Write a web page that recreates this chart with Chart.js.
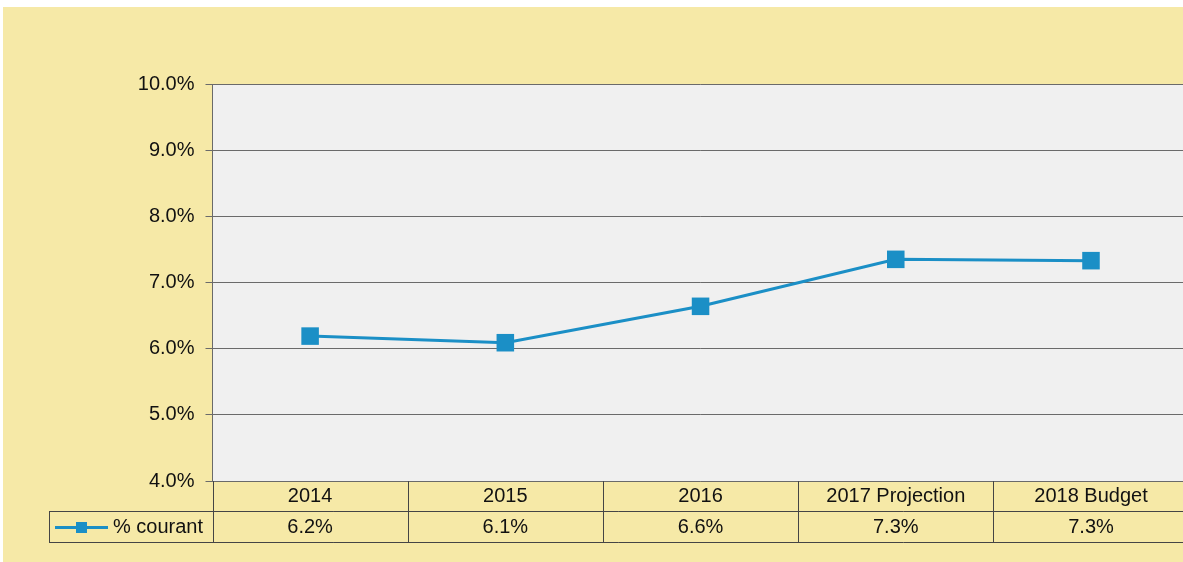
<!DOCTYPE html>
<html>
<head>
<meta charset="utf-8">
<script src="https://cdn.jsdelivr.net/npm/chart.js@4"></script>
<style>
  body { margin: 0; background: #ffffff; overflow: hidden; }
  #wrap { position: absolute; left: 0; top: 0; }
</style>
</head>
<body>
<div id="wrap"><canvas id="myChart" width="1201" height="562"></canvas></div>
<script>
const years = ['2014', '2015', '2016', '2017 Projection', '2018 Budget'];
const courant = [6.19, 6.09, 6.64, 7.35, 7.33];
const serieLabel = '% courant';
const yMin = 4, yMax = 10, yStep = 1;

const lineColor = '#1b8fc6';
const yellow = '#f6e9a7';
const font = "'Liberation Sans', Arial, sans-serif";

const fond = {
  id: 'fond',
  beforeDraw(chart) {
    const c = chart.ctx, a = chart.chartArea;
    c.save();
    c.fillStyle = yellow;
    c.fillRect(3, 7, chart.width, chart.height);
    c.fillStyle = '#f0f0f0';
    c.fillRect(a.left, a.top, a.right - a.left, a.bottom - a.top);
    c.restore();
  }
};

// tableau de données sous le graphique
const tableau = {
  id: 'tableau',
  afterDraw(chart) {
    const c = chart.ctx, a = chart.chartArea, x = chart.scales.x;
    const half = (x.getPixelForValue(1) - x.getPixelForValue(0)) / 2;
    const r1 = a.bottom, r2 = a.bottom + 30, r3 = a.bottom + 61;
    const legL = 49;
    const right = x.getPixelForValue(years.length - 1) + half;
    c.save();
    c.strokeStyle = '#454545';
    c.lineWidth = 1;
    c.beginPath();
    c.moveTo(legL, r2 + 0.5); c.lineTo(right, r2 + 0.5);
    c.moveTo(legL, r3 + 0.5); c.lineTo(right, r3 + 0.5);
    c.moveTo(legL + 0.5, r2); c.lineTo(legL + 0.5, r3);
    for (let i = 0; i <= years.length; i++) {
      const px = Math.round(x.getPixelForValue(i) - half) + 0.5;
      c.moveTo(px, r1); c.lineTo(px, r3);
    }
    c.stroke();

    c.fillStyle = '#111111';
    c.font = '20px ' + font;
    c.textAlign = 'center';
    c.textBaseline = 'middle';
    for (let i = 0; i < years.length; i++) {
      const px = x.getPixelForValue(i);
      c.fillText(years[i], px, (r1 + r2) / 2);
      c.fillText(courant[i].toFixed(1) + '%', px, (r2 + r3) / 2 + 1);
    }

    // légende
    const ly = (r2 + r3) / 2 + 1;
    c.strokeStyle = lineColor;
    c.lineWidth = 3;
    c.beginPath();
    c.moveTo(55, ly); c.lineTo(108, ly);
    c.stroke();
    c.fillStyle = lineColor;
    c.fillRect(76, ly - 5.5, 11, 11);
    c.fillStyle = '#111111';
    c.textAlign = 'left';
    c.fillText(serieLabel, 113, ly);
    c.restore();
  }
};

new Chart(document.getElementById('myChart'), {
  type: 'line',
  data: {
    labels: years,
    datasets: [{
      label: serieLabel,
      data: courant,
      borderColor: lineColor,
      backgroundColor: lineColor,
      borderWidth: 3,
      pointStyle: 'rect',
      pointRadius: 12.4,
      pointHoverRadius: 12.4,
      pointBorderWidth: 0,
      tension: 0,
    }]
  },
  options: {
    responsive: false,
    animation: false,
    devicePixelRatio: 1,
    layout: { padding: { top: 84, bottom: 81, left: 0, right: 1 } },
    plugins: { legend: { display: false }, tooltip: { enabled: false } },
    scales: {
      x: {
        offset: true,
        display: false,
      },
      y: {
        min: yMin,
        max: yMax,
        afterFit(scale) { scale.width = 212.5; },
        ticks: {
          stepSize: yStep,
          color: '#111111',
          font: { family: font, size: 20 },
          padding: 11,
          callback: v => v.toFixed(1) + '%'
        },
        grid: {
          color: '#6a6a6a',
          lineWidth: 1,
          tickLength: 7,
        },
        border: { color: '#6a6a6a', width: 1 }
      }
    }
  },
  plugins: [fond, tableau]
});
</script>
</body>
</html>
